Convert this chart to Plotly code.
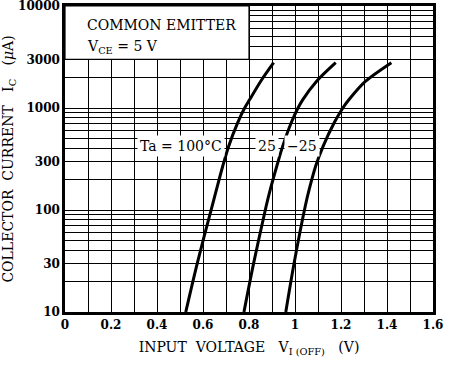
import math
import plotly.graph_objects as go

# Collector current levels (uA) at which the curves were read
current_ua = [10, 30, 110, 160, 270, 425, 720, 1000, 1210, 1830, 2780]

# Input voltage V_I(OFF) (V) for each ambient temperature
v_100c = [0.525, 0.575, 0.640, 0.659, 0.686, 0.712, 0.751, 0.781, 0.803, 0.851, 0.907]
v_25c = [0.778, 0.820, 0.875, 0.893, 0.921, 0.947, 0.984, 1.013, 1.034, 1.094, 1.177]
v_m25c = [0.960, 0.996, 1.045, 1.062, 1.090, 1.123, 1.171, 1.208, 1.235, 1.307, 1.419]

series_names = ["Ta = 100°C", "25", "−25"]
label_x = [0.505, 0.877, 1.03]
label_current = 420

x_tickvals = [0, 0.2, 0.4, 0.6, 0.8, 1.0, 1.2, 1.4, 1.6]
x_ticktext = ["0", "0.2", "0.4", "0.6", "0.8", "1", "1.2", "1.4", "1.6"]
x_minor = [0.1, 0.3, 0.5, 0.7, 0.9, 1.1, 1.3, 1.5]

y_tickvals = [10, 30, 100, 300, 1000, 3000, 10000]
y_ticktext = ["10", "30", "100", "300", "1000", "3000", "10000"]
y_minor = [20, 40, 50, 60, 70, 80, 90,
           200, 400, 500, 600, 700, 800, 900,
           2000, 4000, 5000, 6000, 7000, 8000, 9000]

FONT = "DejaVu Serif"

fig = go.Figure()
for v, name in zip([v_100c, v_25c, v_m25c], series_names):
    fig.add_trace(go.Scatter(
        x=v, y=current_ua, mode="lines", name=name,
        line=dict(color="black", width=3, shape="spline", smoothing=0.8),
        showlegend=False, hoverinfo="skip"))

# white condition box in the upper-left corner
fig.add_shape(type="rect", xref="x", yref="y", x0=0, x1=0.8, y0=3000, y1=10000,
              fillcolor="white", line=dict(color="black", width=1.2), layer="between")

fig.add_annotation(x=0.086, y=3.81, xref="x", yref="y", text="COMMON EMITTER",
                   showarrow=False, xanchor="left", yanchor="middle",
                   font=dict(family=FONT, size=14, color="black"))
fig.add_annotation(x=0.086, y=3.60, xref="x", yref="y",
                   text="V<sub>CE</sub> = 5 V",
                   showarrow=False, xanchor="left", yanchor="middle",
                   font=dict(family=FONT, size=14, color="black"))

# curve labels (annotation y on a log axis is given as log10)
for lx, name in zip(label_x, series_names):
    fig.add_annotation(x=lx, y=math.log10(label_current), xref="x", yref="y", text=name,
                       showarrow=False, bgcolor="white", borderpad=2,
                       font=dict(family=FONT, size=14, color="black"))

fig.update_xaxes(
    range=[0, 1.6], tickvals=x_tickvals, ticktext=x_ticktext,
    showgrid=True, gridcolor="black", gridwidth=1.3,
    minor=dict(tickvals=x_minor, showgrid=True, gridcolor="black", gridwidth=1),
    showline=True, linecolor="black", linewidth=2.5, mirror=True,
    ticks="", zeroline=False, ticklabeloverflow="allow",
    tickfont=dict(family=FONT, size=12, color="black", weight="bold"),
    title=dict(text="INPUT\u00a0\u00a0VOLTAGE\u00a0\u00a0\u00a0V<sub>I\u00a0(OFF)</sub>\u00a0\u00a0\u00a0(V)",
               font=dict(family=FONT, size=14, color="black"), standoff=12))

fig.update_yaxes(
    type="log", range=[1, 4], tickvals=y_tickvals, ticktext=y_ticktext,
    showgrid=True, gridcolor="black", gridwidth=1.3,
    minor=dict(tickvals=y_minor, showgrid=True, gridcolor="black", gridwidth=1),
    showline=True, linecolor="black", linewidth=2.5, mirror=True,
    ticks="", zeroline=False, ticklabeloverflow="allow",
    tickfont=dict(family=FONT, size=12, color="black", weight="bold"),
    title=dict(text="COLLECTOR\u00a0\u00a0CURRENT\u00a0\u00a0\u00a0I<sub>C</sub>\u00a0\u00a0\u00a0(<i>μ</i>A)",
               font=dict(family=FONT, size=14, color="black"), standoff=8))

fig.update_layout(
    width=454, height=370,
    margin=dict(l=65, r=21, t=6, b=58, autoexpand=False),
    paper_bgcolor="white", plot_bgcolor="white",
    font=dict(family=FONT, color="black"))

fig.write_html("out.html", config={"displayModeBar": False},
               post_script="document.body.style.margin='0';")
